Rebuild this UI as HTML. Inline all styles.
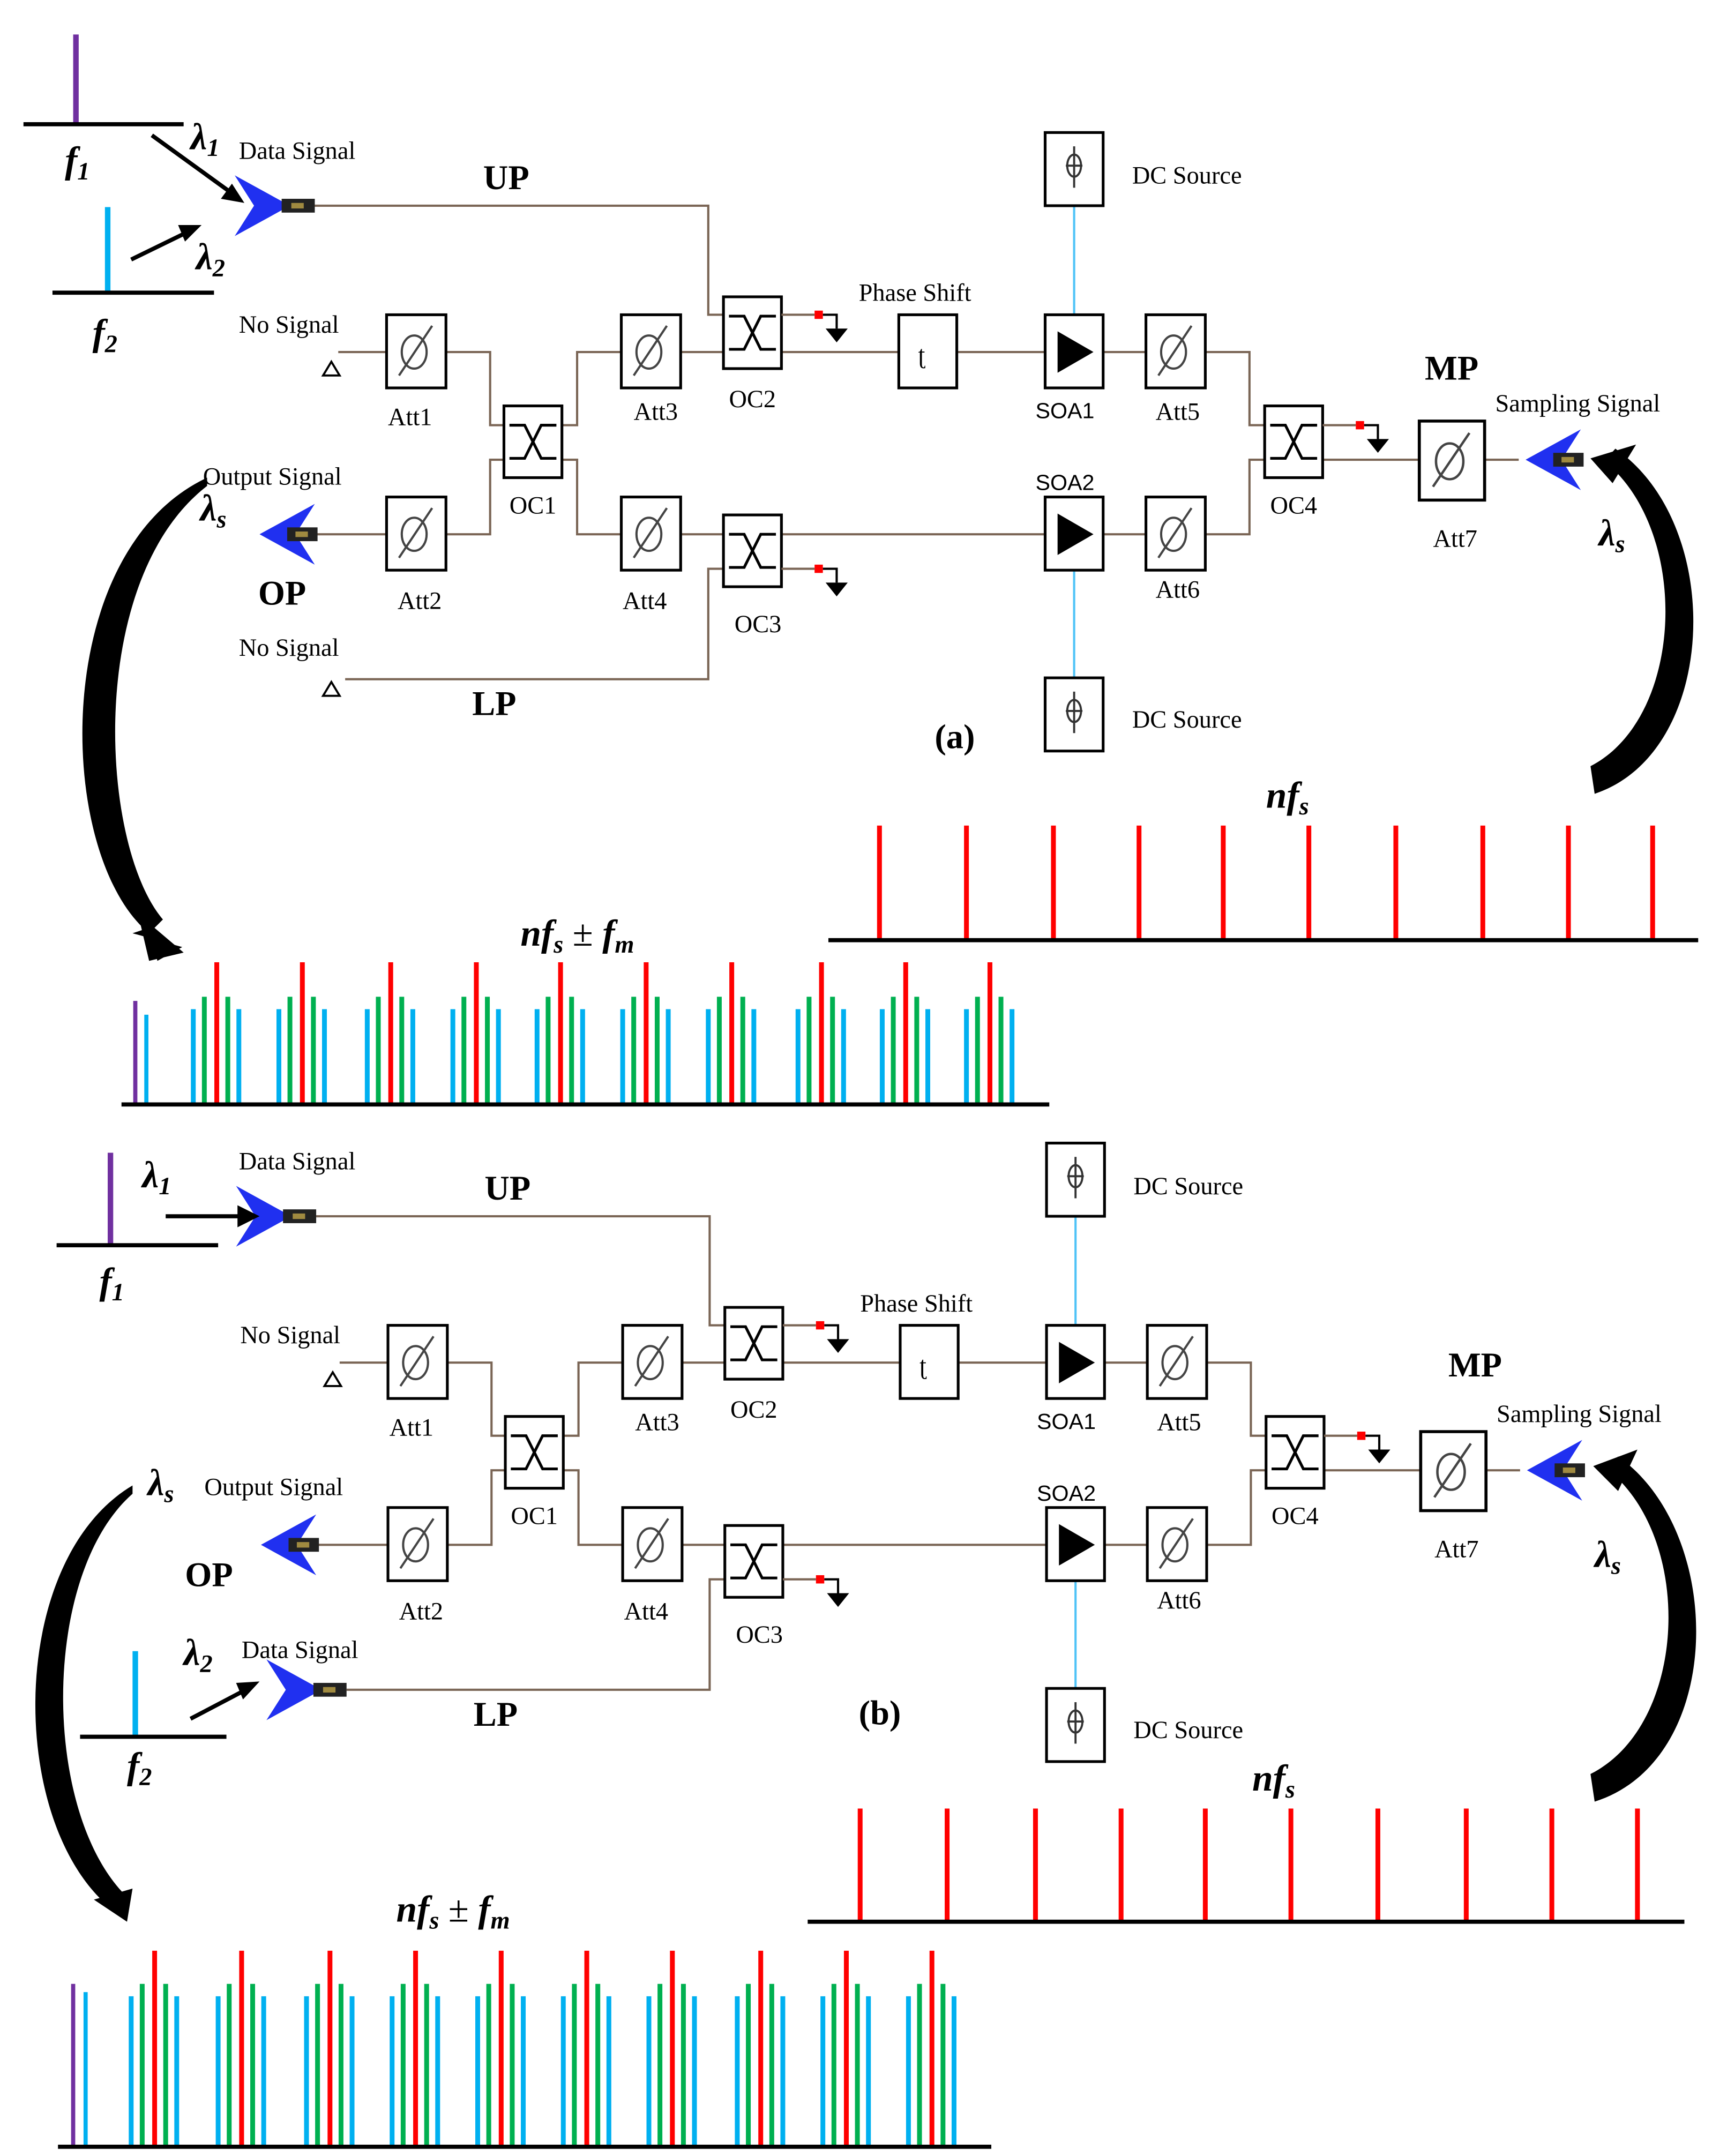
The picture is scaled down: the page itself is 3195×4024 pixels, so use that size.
<!DOCTYPE html>
<html><head><meta charset="utf-8"><style>
html,body{margin:0;padding:0;background:#fff}
svg{display:block}
.w{fill:none;stroke:#7a6555;stroke-width:1.6}
.c{fill:none;stroke:#4fc3f7;stroke-width:1.6}
.bx{fill:#fff;stroke:#000;stroke-width:2}
.t{font-family:"Liberation Serif",serif;font-size:18px;fill:#000}
.s{font-family:"Liberation Sans",sans-serif;font-size:16px;fill:#000}
.m{font-family:"Liberation Serif",serif;font-size:27px;font-weight:bold;font-style:italic;fill:#000}
.b{font-family:"Liberation Serif",serif;font-size:25px;font-weight:bold;fill:#000}
</style></head><body>
<svg width="3195" height="4024" viewBox="0 0 1240 1561.7" preserveAspectRatio="none" xmlns="http://www.w3.org/2000/svg" xmlns:xlink="http://www.w3.org/1999/xlink">
<defs>
<g id="att"><rect class="bx" x="0" y="0" width="43" height="53"/><ellipse cx="20" cy="27" rx="9" ry="12" fill="none" stroke="#444" stroke-width="1.6"/><line x1="9" y1="44" x2="33" y2="8" stroke="#444" stroke-width="1.6"/></g>
<g id="oc"><rect class="bx" x="0" y="0" width="42" height="52"/><path d="M4,14 H15 L27,38 H38 M4,38 H15 L27,14 H38" fill="none" stroke="#000" stroke-width="2"/></g>
<g id="soa"><rect class="bx" x="0" y="0" width="42" height="53"/><polygon points="9,12 35,27 9,42" fill="#000"/></g>
<g id="dc"><rect class="bx" x="0" y="0" width="42" height="53"/><ellipse cx="21" cy="24" rx="5" ry="8" fill="none" stroke="#333" stroke-width="1.5"/><line x1="21" y1="10" x2="21" y2="40" stroke="#333" stroke-width="1.5"/><line x1="15" y1="24" x2="27" y2="24" stroke="#333" stroke-width="1.5"/></g>
<g id="term"><path d="M0,0 H10 V10" fill="none" stroke="#000" stroke-width="1.6"/><polygon points="2,10 18,10 10,20" fill="#000"/><rect x="-6" y="-3" width="6" height="6" fill="#f00"/></g>
<g id="gnd"><polygon points="234,272 246,272 240,262" fill="none" stroke="#000" stroke-width="1.5"/></g>
<g id="lasL"><path d="M0,0 L40,-22 L26,0 L40,22 Z" fill="#2030f0"/><rect x="20" y="-5" width="22" height="10" fill="#222"/><rect x="26" y="-2" width="9" height="4" fill="#a08a40"/></g>
<g id="lasR"><path d="M0,0 L-40,-22 L-26,0 L-40,22 Z" fill="#2030f0"/><rect x="-6" y="-5" width="24" height="10" fill="#222"/><rect x="1" y="-2" width="9" height="4" fill="#a08a40"/></g>
<g id="grpA" stroke-width="3.5">
<line x1="-17" y1="731" x2="-17" y2="800" stroke="#00b0f0"/><line x1="-9" y1="722" x2="-9" y2="800" stroke="#00b050"/><line x1="0" y1="697" x2="0" y2="800" stroke="#f00"/><line x1="8" y1="722" x2="8" y2="800" stroke="#00b050"/><line x1="16" y1="731" x2="16" y2="800" stroke="#00b0f0"/>
</g>
<g id="grpB" stroke-width="3.5">
<line x1="-17" y1="1446" x2="-17" y2="1555" stroke="#00b0f0"/><line x1="-9" y1="1437" x2="-9" y2="1555" stroke="#00b050"/><line x1="0" y1="1413" x2="0" y2="1555" stroke="#f00"/><line x1="8" y1="1437" x2="8" y2="1555" stroke="#00b050"/><line x1="16" y1="1446" x2="16" y2="1555" stroke="#00b0f0"/>
</g>
<g id="core">
<path class="w" d="M245,255 H280 M323,255 H355 V308 H365 M365,333 H355 V387 H323 M280,387 H228 M407,308 H418 V255 H450 M407,333 H418 V387 H450 M492,255 H524 M492,387 H524 M566,255 H651 M693,255 H757 M799,255 H830 M873,255 H905 V308 H916 M566,387 H757 M799,387 H830 M873,387 H905 V333 H916 M958,333 H1028 M1075,333 H1100"/>
<path class="c" d="M778,149 V228 M778,413 V491"/>
<use xlink:href="#gnd"/>
<use xlink:href="#att" x="280" y="228"/><use xlink:href="#att" x="450" y="228"/><use xlink:href="#att" x="830" y="228"/>
<use xlink:href="#att" x="280" y="360"/><use xlink:href="#att" x="450" y="360"/><use xlink:href="#att" x="830" y="360"/>
<g transform="translate(1028,305) scale(1.1,1.08)"><use xlink:href="#att"/></g>
<use xlink:href="#oc" x="524" y="215"/><use xlink:href="#oc" x="365" y="294"/><use xlink:href="#oc" x="524" y="373"/><use xlink:href="#oc" x="916" y="294"/>
<rect class="bx" x="651" y="228" width="42" height="53"/><text x="665" y="263" class="t" font-size="20">ʈ</text>
<use xlink:href="#soa" x="757" y="228"/><use xlink:href="#soa" x="757" y="360"/>
<use xlink:href="#dc" x="757" y="96"/><use xlink:href="#dc" x="757" y="491"/>
<path class="w" d="M566,228 H590"/><use xlink:href="#term" x="596" y="228"/>
<path class="w" d="M566,412 H590"/><use xlink:href="#term" x="596" y="412"/>
<path class="w" d="M958,308 H982"/><use xlink:href="#term" x="988" y="308"/>
<use xlink:href="#lasL" x="188" y="387"/>
<use xlink:href="#lasL" x="1105" y="333"/>
<text class="t" x="173" y="241">No Signal</text>
<text class="t" x="281" y="308">Att1</text><text class="t" x="459" y="304">Att3</text><text class="t" x="528" y="295">OC2</text>
<text class="t" x="622" y="218">Phase Shift</text><text class="s" x="750" y="303">SOA1</text><text class="t" x="837" y="304">Att5</text>
<text class="t" x="369" y="372">OC1</text><text class="t" x="920" y="372">OC4</text><text class="t" x="1038" y="396">Att7</text>
<text class="t" x="288" y="441">Att2</text><text class="t" x="451" y="441">Att4</text><text class="t" x="532" y="458">OC3</text>
<text class="s" x="750" y="355">SOA2</text><text class="t" x="837" y="433">Att6</text>
<text class="t" x="820" y="133">DC Source</text><text class="t" x="820" y="527">DC Source</text>
<text class="t" x="1083" y="298">Sampling Signal</text>
<text class="b" x="350" y="137">UP</text><text class="b" x="342" y="518">LP</text>
</g>
</defs>

<!-- Panel (a) -->
<path class="w" d="M228,149 H513 V228 H524 M250,492 H513 V412 H524"/>
<use xlink:href="#core"/>
<use xlink:href="#lasR" x="210" y="149"/>
<polygon points="234,504 246,504 240,494" fill="none" stroke="#000" stroke-width="1.5"/>
<text class="t" x="173" y="475">No Signal</text>
<text class="t" x="147" y="351">Output Signal</text>
<text class="t" x="173" y="115">Data Signal</text>
<text class="b" x="187" y="438">OP</text>
<text class="b" x="1032" y="275">MP</text>
<text class="b" x="677" y="542">(a)</text>
<line x1="55" y1="25" x2="55" y2="90" stroke="#7030a0" stroke-width="4"/>
<line x1="17" y1="90" x2="133" y2="90" stroke="#000" stroke-width="3"/>
<line x1="78" y1="150" x2="78" y2="212" stroke="#00b0f0" stroke-width="4"/>
<line x1="38" y1="212" x2="155" y2="212" stroke="#000" stroke-width="3"/>
<text class="m" x="47" y="125">f<tspan font-size="18" dy="5">1</tspan></text>
<text class="m" x="67" y="250">f<tspan font-size="18" dy="5">2</tspan></text>
<text class="m" x="138" y="108">λ<tspan font-size="18" dy="5">1</tspan></text>
<text class="m" x="142" y="195">λ<tspan font-size="18" dy="5">2</tspan></text>
<text class="m" x="145" y="377">λ<tspan font-size="18" dy="5">s</tspan></text>
<text class="m" x="1158" y="395">λ<tspan font-size="18" dy="5">s</tspan></text>
<line x1="110" y1="98" x2="168" y2="140" stroke="#000" stroke-width="3"/><polygon points="177,147 160,144 168,133" fill="#000"/>
<line x1="95" y1="188" x2="136" y2="168" stroke="#000" stroke-width="3"/><polygon points="146,163 134,175 129,163" fill="#000"/>
<path d="M150,346 C35,400 40,620 108,676 L118,666 C72,612 62,420 150,352 Z" fill="#000"/>
<polygon points="96,676 132,686 114,696 108,672" fill="#000"/><polygon points="100,662 133,690 108,696" fill="#000"/>
<path d="M1155,575 C1245,545 1250,380 1170,325 L1162,334 C1225,385 1220,520 1152,555 Z" fill="#000"/>
<polygon points="1152,332 1185,322 1168,350" fill="#000"/>
<text class="m" x="917" y="585">nf<tspan font-size="18" dy="5">s</tspan></text>
<text class="m" x="377" y="685">nf<tspan font-size="18" dy="5">s</tspan><tspan dy="-5" font-style="normal" font-weight="normal"> ± </tspan>f<tspan font-size="18" dy="5">m</tspan></text>
<g stroke="#f00" stroke-width="3.5">
<line x1="637" y1="598" x2="637" y2="681"/><line x1="700" y1="598" x2="700" y2="681"/><line x1="763" y1="598" x2="763" y2="681"/><line x1="825" y1="598" x2="825" y2="681"/><line x1="886" y1="598" x2="886" y2="681"/><line x1="948" y1="598" x2="948" y2="681"/><line x1="1011" y1="598" x2="1011" y2="681"/><line x1="1074" y1="598" x2="1074" y2="681"/><line x1="1136" y1="598" x2="1136" y2="681"/><line x1="1197" y1="598" x2="1197" y2="681"/>
</g>
<line x1="600" y1="681" x2="1230" y2="681" stroke="#000" stroke-width="3"/>
<line x1="98" y1="725" x2="98" y2="800" stroke="#7030a0" stroke-width="3"/>
<line x1="106" y1="735" x2="106" y2="800" stroke="#00b0f0" stroke-width="3"/>
<use xlink:href="#grpA" x="157"/><use xlink:href="#grpA" x="219"/><use xlink:href="#grpA" x="283"/><use xlink:href="#grpA" x="345"/><use xlink:href="#grpA" x="406"/><use xlink:href="#grpA" x="468"/><use xlink:href="#grpA" x="530"/><use xlink:href="#grpA" x="595"/><use xlink:href="#grpA" x="656"/><use xlink:href="#grpA" x="717"/>
<line x1="88" y1="800" x2="760" y2="800" stroke="#000" stroke-width="3"/>

<!-- Panel (b) -->
<g transform="translate(1,732)">
<path class="w" d="M228,149 H513 V228 H524 M250,492 H513 V412 H524"/>
<use xlink:href="#core"/>
<use xlink:href="#lasR" x="210" y="149"/>
<use xlink:href="#lasR" x="232" y="492"/>
<text class="t" x="147" y="351">Output Signal</text>
<text class="t" x="172" y="115">Data Signal</text>
<text class="t" x="174" y="469">Data Signal</text>
<text class="b" x="133" y="417">OP</text>
<text class="b" x="1048" y="265">MP</text>
<text class="b" x="621" y="517">(b)</text>
</g>
<line x1="80" y1="835" x2="80" y2="902" stroke="#7030a0" stroke-width="4"/>
<line x1="41" y1="902" x2="158" y2="902" stroke="#000" stroke-width="3"/>
<line x1="98" y1="1196" x2="98" y2="1258" stroke="#00b0f0" stroke-width="4"/>
<line x1="58" y1="1258" x2="164" y2="1258" stroke="#000" stroke-width="3"/>
<text class="m" x="72" y="937">f<tspan font-size="18" dy="5">1</tspan></text>
<text class="m" x="92" y="1288">f<tspan font-size="18" dy="5">2</tspan></text>
<text class="m" x="103" y="860">λ<tspan font-size="18" dy="5">1</tspan></text>
<text class="m" x="133" y="1206">λ<tspan font-size="18" dy="5">2</tspan></text>
<text class="m" x="107" y="1083">λ<tspan font-size="18" dy="5">s</tspan></text>
<text class="m" x="1155" y="1135">λ<tspan font-size="18" dy="5">s</tspan></text>
<line x1="120" y1="881" x2="176" y2="881" stroke="#000" stroke-width="3"/><polygon points="188,881 172,873 172,889" fill="#000"/>
<line x1="138" y1="1245" x2="178" y2="1224" stroke="#000" stroke-width="3"/><polygon points="188,1218 176,1231 171,1219" fill="#000"/>
<path d="M96,1076 C5,1130 5,1320 80,1382 L90,1372 C30,1310 30,1140 96,1082 Z" fill="#000"/>
<polygon points="68,1376 96,1368 92,1392" fill="#000"/>
<path d="M1155,1305 C1250,1275 1250,1110 1172,1055 L1164,1064 C1228,1115 1222,1250 1152,1285 Z" fill="#000"/>
<polygon points="1154,1062 1186,1050 1172,1080" fill="#000"/>
<text class="m" x="907" y="1297">nf<tspan font-size="18" dy="5">s</tspan></text>
<text class="m" x="287" y="1392">nf<tspan font-size="18" dy="5">s</tspan><tspan dy="-5" font-style="normal" font-weight="normal"> ± </tspan>f<tspan font-size="18" dy="5">m</tspan></text>
<g stroke="#f00" stroke-width="3.5">
<line x1="623" y1="1310" x2="623" y2="1392"/><line x1="686" y1="1310" x2="686" y2="1392"/><line x1="750" y1="1310" x2="750" y2="1392"/><line x1="812" y1="1310" x2="812" y2="1392"/><line x1="873" y1="1310" x2="873" y2="1392"/><line x1="935" y1="1310" x2="935" y2="1392"/><line x1="998" y1="1310" x2="998" y2="1392"/><line x1="1062" y1="1310" x2="1062" y2="1392"/><line x1="1124" y1="1310" x2="1124" y2="1392"/><line x1="1186" y1="1310" x2="1186" y2="1392"/>
</g>
<line x1="585" y1="1392" x2="1220" y2="1392" stroke="#000" stroke-width="3"/>
<line x1="53" y1="1437" x2="53" y2="1555" stroke="#7030a0" stroke-width="3"/>
<line x1="62" y1="1443" x2="62" y2="1555" stroke="#00b0f0" stroke-width="3"/>
<use xlink:href="#grpB" x="112"/><use xlink:href="#grpB" x="175"/><use xlink:href="#grpB" x="239"/><use xlink:href="#grpB" x="301"/><use xlink:href="#grpB" x="363"/><use xlink:href="#grpB" x="425"/><use xlink:href="#grpB" x="487"/><use xlink:href="#grpB" x="551"/><use xlink:href="#grpB" x="613"/><use xlink:href="#grpB" x="675"/>
<line x1="42" y1="1555" x2="718" y2="1555" stroke="#000" stroke-width="3"/>
</svg>
</body></html>
